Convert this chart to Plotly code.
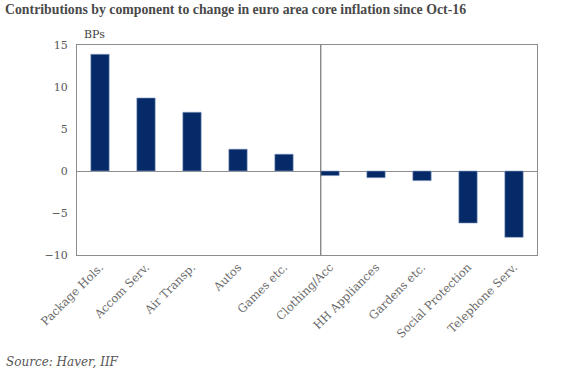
import plotly.graph_objects as go

categories = ["Package Hols.", "Accom Serv.", "Air Transp.", "Autos", "Games etc.",
              "Clothing/Acc", "HH Appliances", "Gardens etc.", "Social Protection", "Telephone Serv."]
values = [13.9, 8.7, 7.0, 2.6, 2.0, -0.55, -0.8, -1.15, -6.2, -7.9]
y_ticks = [-10, -5, 0, 5, 10, 15]

bar_width = 0.4
serif = "DejaVu Serif, Liberation Serif, serif"
title_font = "Liberation Serif, serif"

fig = go.Figure()
fig.add_trace(go.Bar(
    x=list(range(len(categories))), y=values,
    width=bar_width,
    marker=dict(color="#062A68", line=dict(color="#8FA5C8", width=0.6)),
))

# divider between positive and negative contributors
first_neg = next(i for i, v in enumerate(values) if v < 0)
fig.add_shape(type="line", xref="x", yref="paper",
              x0=first_neg - bar_width / 2, x1=first_neg - bar_width / 2, y0=0, y1=1,
              line=dict(color="#595959", width=1))

fig.update_layout(
    width=570, height=373,
    margin=dict(l=77, r=33, t=45, b=118, autoexpand=False),
    paper_bgcolor="white", plot_bgcolor="white",
    showlegend=False,
    font=dict(family=serif, color="#666666", size=11),
    bargap=0.6,
)
fig.update_xaxes(
    range=[-0.5, len(categories) - 0.5], automargin=False,
    tickmode="array", tickvals=list(range(len(categories))), ticktext=categories,
    tickangle=-45, showgrid=False, zeroline=False,
    showline=True, linecolor="#8C8C8C", linewidth=1, mirror=True,
    ticks="", tickfont=dict(size=11.5, color="#6a6a6a", family=serif),
)
fig.update_yaxes(
    range=[-10, 15], tickmode="array", tickvals=y_ticks, automargin=False,
    showgrid=False, zeroline=True, zerolinecolor="#8C8C8C", zerolinewidth=1,
    showline=True, linecolor="#8C8C8C", linewidth=1, mirror=True,
    ticks="", ticklen=0, ticklabelstandoff=6, tickfont=dict(size=11, color="#595959", family=serif),
)

fig.add_annotation(text="<b>Contributions by component to change in euro area core inflation since Oct-16</b>",
                   xref="paper", yref="paper", x=-74/460, y=1 + 35/210, xanchor="left", yanchor="middle",
                   showarrow=False, font=dict(size=13.8, color="#4a4a4a", family=title_font))
fig.add_annotation(text="BPs", xref="paper", yref="paper", x=0.01, y=1 + 10/210,
                   xanchor="left", yanchor="middle", showarrow=False,
                   font=dict(size=11, color="#404040", family=serif))
fig.add_annotation(text="<i>Source: Haver, IIF</i>", xref="paper", yref="paper",
                   x=-73/460, y=-107/210, xanchor="left", yanchor="middle", showarrow=False,
                   font=dict(size=12, color="#555555", family=serif))

fig.write_html("out.html", config={"displayModeBar": False},
               post_script="document.body.style.margin='0';")
